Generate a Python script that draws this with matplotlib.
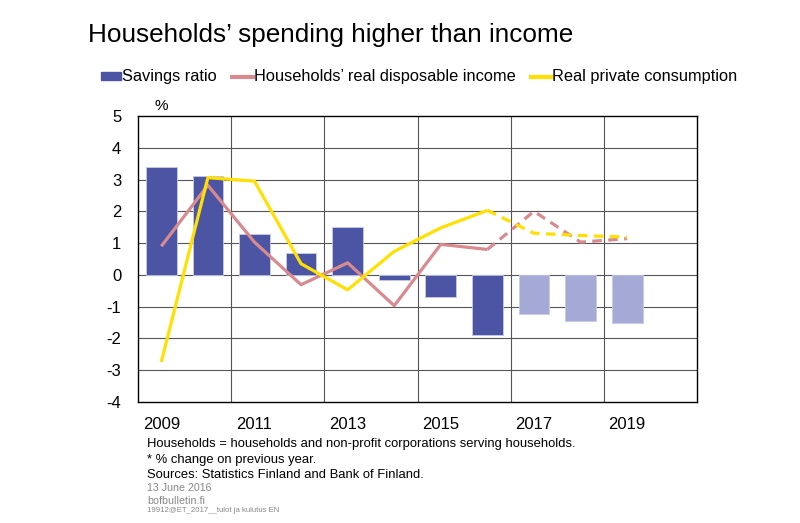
import matplotlib
matplotlib.use("Agg")
import matplotlib.pyplot as plt
from matplotlib.patches import Patch
from matplotlib.lines import Line2D
import numpy as np

plt.rcParams['font.family'] = ['Liberation Sans', 'DejaVu Sans']

years = list(range(2009, 2021))
tick_years = [2009, 2011, 2013, 2015, 2017, 2019]
savings = [3.4, 3.1, 1.3, 0.7, 1.5, -0.15, -0.7, -1.9, -1.23, -1.44, -1.5]
income = [0.9, 2.82, 1.03, -0.31, 0.38, -0.97, 0.96, 0.8, 2.0, 1.03, 1.14]
consumption = [-2.74, 3.06, 2.95, 0.35, -0.47, 0.74, 1.48, 2.03, 1.31, 1.24, 1.19]
forecast_start = 2016  # lines dashed from here, bars light after

c_bar = '#4B55A3'
c_bar_f = '#A4A9D6'
c_inc = '#D98A8F'
c_con = '#FFE000'

fig = plt.figure(figsize=(8, 5.23), dpi=100)
ax = fig.add_axes([0.1725, 0.2314, 0.6988, 0.5468])

idx = np.arange(len(years))
n = len(savings)
xi = idx[:n]
fs = years.index(forecast_start)
bar_colors = [c_bar if y <= forecast_start else c_bar_f for y in years[:n]]
ax.bar(xi, savings, width=0.66, color=bar_colors, edgecolor='#C8CBE6', linewidth=0.6, zorder=2)

ax.plot(xi[:fs + 1], income[:fs + 1], color=c_inc, lw=2.3, zorder=3, solid_capstyle='butt')
ax.plot(xi[fs:], income[fs:], color=c_inc, lw=2.3, ls=(0, (3, 2)), zorder=3)
ax.plot(xi[:fs + 1], consumption[:fs + 1], color=c_con, lw=2.3, zorder=4, solid_capstyle='butt')
ax.plot(xi[fs:], consumption[fs:], color=c_con, lw=2.3, ls=(0, (3, 2)), zorder=4)

ax.set_xlim(-0.5, len(years) - 0.5)
ax.set_ylim(-4, 5)
ax.set_yticks(range(-4, 6))
ax.set_yticklabels([str(v) for v in range(-4, 6)], fontsize=12)
ax.set_xticks([years.index(y) for y in tick_years])
ax.set_xticklabels([str(y) for y in tick_years], fontsize=12)
ax.tick_params(axis='x', length=0, pad=11)
ax.tick_params(axis='y', length=0, pad=12)

for v in range(-3, 5):
    ax.axhline(v, color='#555555', lw=0.8, zorder=1)
for b in [1.5, 3.5, 5.5, 7.5, 9.5]:
    ax.axvline(b, color='#555555', lw=0.8, zorder=1)
for s in ax.spines.values():
    s.set_color('black')
    s.set_linewidth(1.0)

ax.text(0, 1.012, '%', transform=ax.get_xaxis_transform(), fontsize=11, ha='center', va='bottom')

fig.text(88 / 800, 1 - 35 / 523, 'Households’ spending higher than income', fontsize=18.8, va='center', ha='left')

handles = [Patch(color=c_bar), Line2D([], [], color=c_inc, lw=3), Line2D([], [], color=c_con, lw=3)]
labels = ['Savings ratio', 'Households’ real disposable income', 'Real private consumption']
fig.legend(handles, labels, loc='center left', bbox_to_anchor=(86 / 800, 1 - 77 / 523), ncol=3,
           frameon=False, fontsize=11.8, handlelength=1.25, handletextpad=0.05, columnspacing=0.95,
           handleheight=0.4)

fig.text(147 / 800, 1 - 444 / 523, 'Households = households and non-profit corporations serving households.',
         fontsize=9.4, va='center')
fig.text(147 / 800, 1 - 460 / 523, '* % change on previous year.', fontsize=9.4, va='center')
fig.text(147 / 800, 1 - 475 / 523, 'Sources: Statistics Finland and Bank of Finland.', fontsize=9.4, va='center')
fig.text(147 / 800, 1 - 488 / 523, '13 June 2016', fontsize=7.7, color='#888888', va='center')
fig.text(147 / 800, 1 - 501 / 523, 'bofbulletin.fi', fontsize=7.7, color='#888888', va='center')
fig.text(147 / 800, 1 - 511 / 523, '19912@ET_2017__tulot ja kulutus EN', fontsize=5.6, color='#888888', va='center')

fig.savefig('out.png', dpi=100)
